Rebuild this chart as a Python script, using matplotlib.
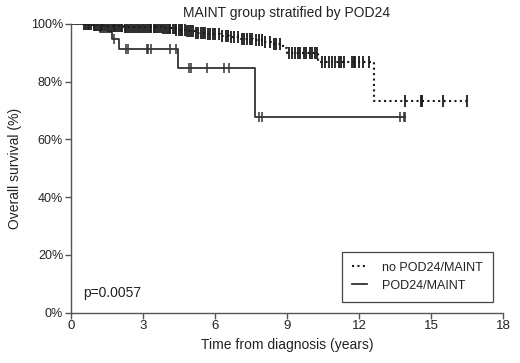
import numpy as np
import matplotlib
matplotlib.use("Agg")
import matplotlib.pyplot as plt
from matplotlib.lines import Line2D

plt.rcParams['font.family'] = ['Liberation Sans', 'DejaVu Sans']

# Kaplan-Meier steps (time in years, survival in %)
no_pod_times = [0, 0.9, 1.5, 2.2, 3.0, 3.8, 4.4, 4.8, 5.2, 5.7, 6.2, 6.6, 7.1, 7.6, 8.0, 8.4, 8.85, 9.0, 10.3, 12.6]
no_pod_surv = [100, 99.7, 99.4, 99.1, 98.8, 98.5, 98.0, 97.5, 97.0, 96.5, 96.0, 95.4, 94.9, 94.3, 93.6, 92.9, 91.5, 89.8, 86.9, 73.4]
no_pod_end = 16.5

pod_times = [0, 1.23, 1.72, 2.0, 4.45, 7.65]
pod_surv = [100, 97.1, 94.8, 91.3, 84.8, 67.9]
pod_end = 13.92

# censor marks
no_pod_cens = [0.54, 0.62, 0.7, 0.78, 0.85, 0.95, 1.02, 1.1, 1.18, 1.25, 1.32, 1.4, 1.47, 1.55,
               1.62, 1.7, 1.78, 1.85, 1.92, 2.0, 2.08, 2.15, 2.25, 2.32, 2.4, 2.48, 2.55, 2.62,
               2.7, 2.8, 2.88, 2.95, 3.05, 3.12, 3.2, 3.28, 3.35, 3.45, 3.52, 3.6, 3.68, 3.75,
               3.85, 3.92, 4.0, 4.08, 4.15, 4.25, 4.32, 4.4, 4.5, 4.58, 4.65, 4.75, 4.85, 4.92,
               5.0, 5.1, 5.2, 5.3, 5.4, 5.5, 5.6, 5.7, 5.8, 5.9, 6.0, 6.15, 6.3, 6.45, 6.55,
               6.65, 6.8, 6.95, 7.13, 7.2, 7.35, 7.45, 7.55, 7.7, 7.85, 7.97, 8.1, 8.3, 8.45,
               8.55, 8.7, 9.07, 9.2, 9.35, 9.45, 9.55, 9.7, 9.8, 9.95, 10.05, 10.15, 10.25,
               10.46, 10.59, 10.73, 10.87, 11.01, 11.15, 11.25, 11.36, 11.7, 11.77, 11.84,
               11.98, 12.18, 12.39, 13.92, 14.57, 14.62, 15.47, 16.5]
pod_cens = [1.18, 1.8, 2.31, 2.4, 3.16, 3.23, 3.32, 4.15, 4.36, 4.92, 5.01, 5.68, 6.37, 6.58,
            7.85, 7.96, 13.68, 13.85, 13.92]


def step_xy(times, surv, end):
    x = list(times) + [end]
    y = list(surv) + [surv[-1]]
    return x, y


def level_at(times, surv, t):
    idx = np.searchsorted(times, t, side='right') - 1
    return np.array(surv)[idx]


fig = plt.figure(figsize=(5.2, 3.63), dpi=100)
ax = fig.add_axes([0.136, 0.139, 0.832, 0.795])

ink = '#1a1a1a'
x, y = step_xy(no_pod_times, no_pod_surv, no_pod_end)
ax.step(x, y, where='post', color=ink, linestyle=(0, (1, 1.6)), lw=1.5)
x, y = step_xy(pod_times, pod_surv, pod_end)
ax.step(x, y, where='post', color='#333333', linestyle='-', lw=1.3)

ax.plot(no_pod_cens, level_at(no_pod_times, no_pod_surv, no_pod_cens), ls='none',
        marker='|', ms=8, mew=1.3, color=ink)
ax.plot(pod_cens, level_at(pod_times, pod_surv, pod_cens), ls='none',
        marker='|', ms=7, mew=1.1, color='#333333')

ax.set_xlim(0, 18)
ax.set_ylim(0, 100)
ax.set_xticks([0, 3, 6, 9, 12, 15, 18])
ax.set_yticks([0, 20, 40, 60, 80, 100])
ax.set_yticklabels(['0%', '20%', '40%', '60%', '80%', '100%'])
ax.spines['top'].set_visible(False)
ax.spines['right'].set_visible(False)
for s in ['left', 'bottom']:
    ax.spines[s].set_color('#555555')
    ax.spines[s].set_linewidth(1.0)
ax.tick_params(axis='both', direction='out', length=4, width=1.0, color='#555555',
               pad=1.5, labelcolor='#222222')
ax.tick_params(axis='x', labelsize=9.5)
ax.tick_params(axis='y', labelsize=9)

ax.set_title('MAINT group stratified by POD24', fontsize=10, color='#222222', pad=5)
ax.set_xlabel('Time from diagnosis (years)', fontsize=10, color='#222222', labelpad=4)
ax.set_ylabel('Overall survival (%)', fontsize=10, color='#222222', labelpad=6)

ax.text(0.028, 0.067, 'p=0.0057', transform=ax.transAxes, fontsize=10,
        color='#222222', va='center', ha='left')

handles = [Line2D([], [], color=ink, linestyle=(0, (1, 1.6)), lw=1.5),
           Line2D([], [], color='#333333', linestyle='-', lw=1.3)]
leg = ax.legend(handles, ['no POD24/MAINT', 'POD24/MAINT'], loc='lower right',
                bbox_to_anchor=(0.976, 0.037), fontsize=9, fancybox=False,
                edgecolor='#444444', framealpha=1, handlelength=1.2,
                handletextpad=1.2, borderpad=0.8, labelspacing=0.5, borderaxespad=0)
leg.get_frame().set_linewidth(0.9)
for t in leg.get_texts():
    t.set_color('#222222')

fig.savefig('out.png', dpi=100)
